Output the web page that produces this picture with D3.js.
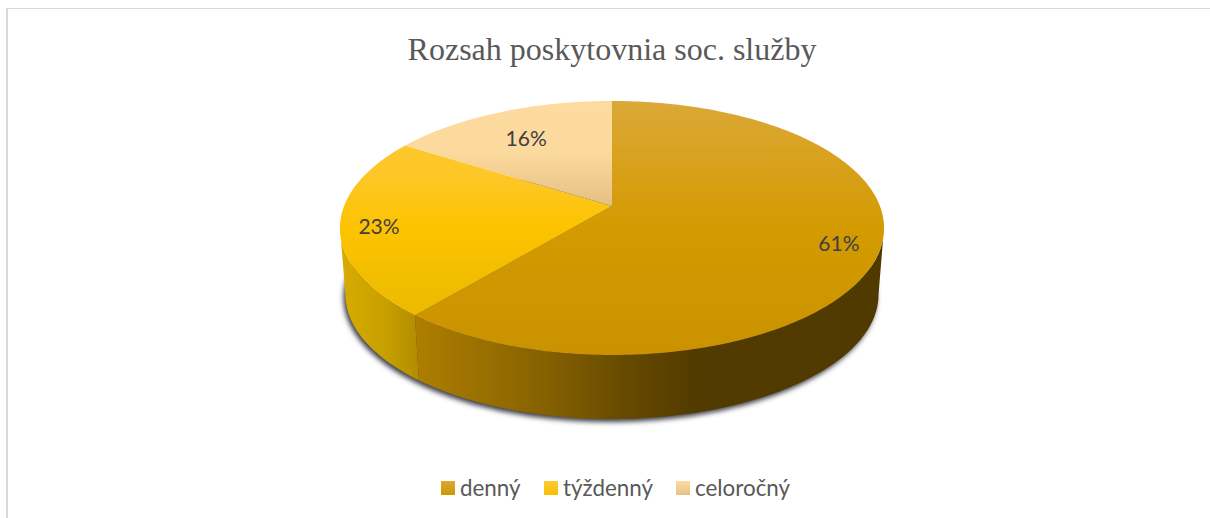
<!DOCTYPE html>
<html><head><meta charset="utf-8">
<script src="https://cdn.jsdelivr.net/npm/d3@7"></script>
<style>html,body{margin:0;padding:0;background:#fff}svg{display:block}</style>
</head><body><svg id="c" width="1210" height="518"></svg>
<script>
const categories = ["denný", "týždenný", "celoročný"];
const values = [61, 23, 16];
const labels = ["61%", "23%", "16%"];
const title = "Rozsah poskytovnia soc. služby";

const svg = d3.select("#c");
const defs = svg.append("defs");
// chart frame
svg.append("rect").attr("x",6).attr("y",8).attr("width",2).attr("height",510).attr("fill","#d9d9d9");
svg.append("rect").attr("x",6).attr("y",8).attr("width",1204).attr("height",1).attr("fill","#d9d9d9");

svg.append("text").attr("x",612).attr("y",60).attr("text-anchor","middle")
  .attr("font-family","'Liberation Serif',serif").attr("font-size",32).attr("fill","#595959").text(title);

// perspective disc projection
const k = 0.1732;
function projector(cx, cy, c, a){
  return (th, r=1) => {
    const u = Math.sin(th)*r, v = -Math.cos(th)*r, w = 1 - k*v;
    return [cx + c*u/w, cy + a*v/w];
  };
}
const topRim = projector(612, 206, 267.9, 123.2);
const lowRim = projector(612, 273, 262.5, 120.7);

const pie = d3.pie().sort(null).startAngle(0).endAngle(2*Math.PI).value(d=>d);
const arcs = pie(values);
const line = d3.line();
function sample(rim, a0, a1){
  const n = Math.max(2, Math.ceil(Math.abs(a1-a0)*60));
  return d3.range(n+1).map(i => rim(a0 + (a1-a0)*i/n));
}

function grad(id, x1,y1,x2,y2, stops, units="userSpaceOnUse"){
  const g = defs.append("linearGradient").attr("id",id).attr("gradientUnits",units)
    .attr("x1",x1).attr("y1",y1).attr("x2",x2).attr("y2",y2);
  stops.forEach(s=>g.append("stop").attr("offset",s[0]).attr("stop-color",s[1]));
}
const topStops = [
  [[0,"#dca838"],[0.35,"#d69e10"],[0.5,"#d39b00"],[1,"#ca9200"]],
  [[0,"#fec93a"],[0.3,"#fdc726"],[0.5,"#fdc300"],[1,"#e2b600"]],
  [[0,"#fddba0"],[0.2,"#fcd99c"],[0.42,"#e4bf85"],[1,"#d8b070"]]
];
const legendStops = [
  [[0,"#dca838"],[1,"#cf9700"]],
  [[0,"#fec93a"],[1,"#f8bf00"]],
  [[0,"#fddba0"],[1,"#e6c185"]]
];
topStops.forEach((s,i)=>grad("top"+i,0,101,0,355,s));
legendStops.forEach((s,i)=>grad("leg"+i,0,0,0,1,s,"objectBoundingBox"));
grad("side0",417,0,880,0,[[0,"#ad7e00"],[0.25,"#8a6400"],[0.45,"#664a00"],[0.6,"#523b00"],[1,"#513a00"]]);
grad("side1",345,0,423,0,[[0,"#d6aa00"],[0.5,"#c8a000"],[1,"#b08a00"]]);

// drop shadow under the rim
const f = defs.append("filter").attr("id","sh").attr("x","-10%").attr("y","-10%").attr("width","120%").attr("height","125%");
f.append("feGaussianBlur").attr("stdDeviation",2.5);
svg.append("path")
  .attr("d", line(sample(lowRim,0,2*Math.PI))+"Z")
  .attr("transform","translate(-2,3)")
  .attr("fill","#3f3f4a").attr("filter","url(#sh)");

// side walls: only the front of the rim is visible, between the two silhouette angles
const silR = Math.acos(-k), silL = 2*Math.PI - silR;
arcs.forEach((d,i)=>{
  const from = Math.max(d.startAngle, silR), to = Math.min(d.endAngle, silL);
  if(to <= from) return;
  const pts = sample(topRim,from,to).concat(sample(lowRim,from,to).reverse());
  svg.append("path").attr("d", line(pts)+"Z").attr("fill",`url(#side${i})`);
});

// top faces
const apex = topRim(0,0);
arcs.forEach((d,i)=>{
  const pts = [apex].concat(sample(topRim,d.startAngle,d.endAngle));
  svg.append("path").attr("d",line(pts)+"Z").attr("fill",`url(#top${i})`);
});

// data labels
const labelR = [0.855, 0.86, 0.74];
const labelDy = [0, 4, 4];
arcs.forEach((d,i)=>{
  const p = topRim((d.startAngle+d.endAngle)/2, labelR[i]);
  svg.append("text").attr("x",p[0]).attr("y",p[1]+labelDy[i]).attr("dy","0.35em").attr("text-anchor","middle")
    .attr("font-family","Lato,sans-serif").attr("font-size",21).attr("fill","#404040").text(labels[i]);
});

// legend
const legendX = [441, 544, 676];
categories.forEach((c,i)=>{
  svg.append("rect").attr("x",legendX[i]).attr("y",481).attr("width",14).attr("height",14).attr("fill",`url(#leg${i})`);
  svg.append("text").attr("x",legendX[i]+19).attr("y",496)
    .attr("font-family","Lato,sans-serif").attr("font-size",22.4).attr("fill","#595959").text(c);
});
</script></body></html>
